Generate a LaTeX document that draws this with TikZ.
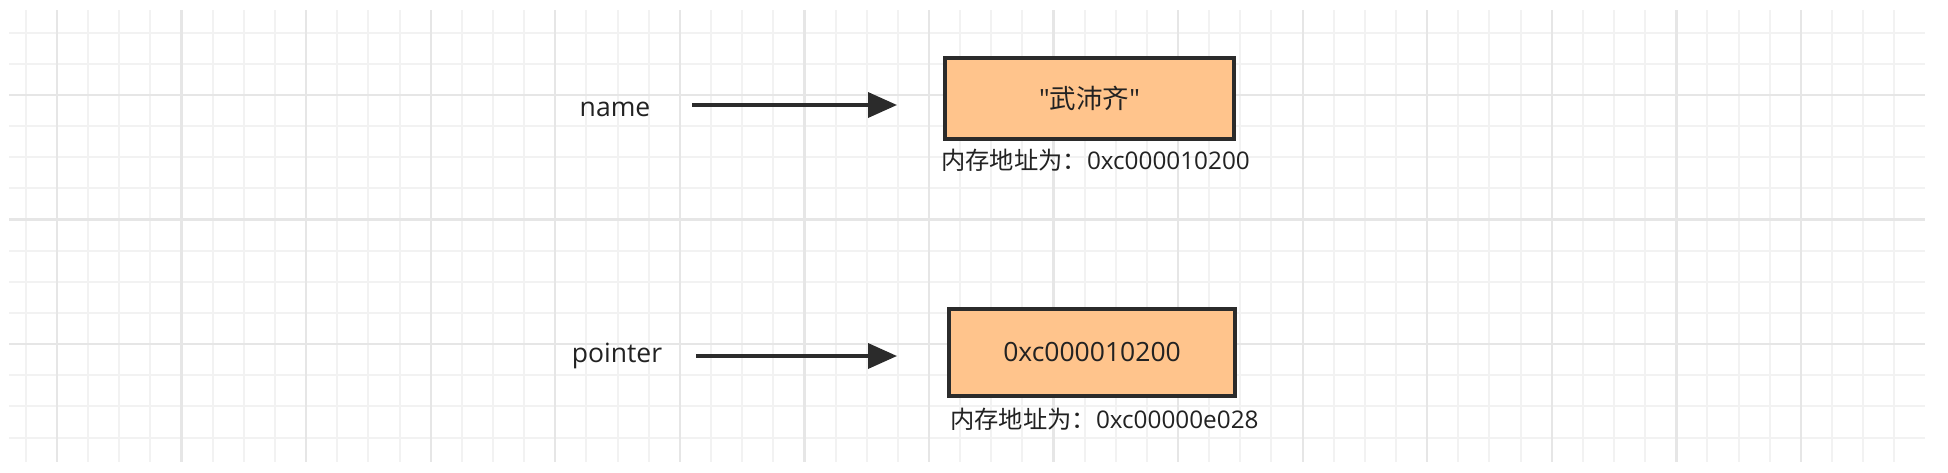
\documentclass[tikz,border=0pt]{standalone}
\usepackage{fontspec}
\setmainfont{Open Sans}
\newfontfamily\cjk{Noto Sans CJK SC}
\usetikzlibrary{positioning,arrows.meta}
\definecolor{boxfill}{HTML}{FFC48C}
\definecolor{boxline}{HTML}{2B2B2B}
\definecolor{textgray}{HTML}{222222}
\definecolor{gridminor}{HTML}{F2F2F2}
\definecolor{gridmajor}{HTML}{E6E6E6}
\tikzset{
  membox/.style={draw=boxline, fill=boxfill, line width=4pt, inner sep=0pt,
    text=textgray, font=\fontsize{26.5}{30}\selectfont},
  varname/.style={inner sep=0pt, text=textgray, font=\fontsize{26.5}{30}\selectfont},
  addr/.style={inner sep=0pt, anchor=west, text=textgray,
    font=\fontsize{24.3}{28}\selectfont},
  ptr/.style={draw=boxline, line width=3.6pt, -{Triangle[length=29pt,width=25pt]}},
  minorline/.style={draw=gridminor, line width=2pt},
  majorline/.style={draw=gridmajor, line width=2.4pt},
}
\begin{document}
\begin{tikzpicture}[x=1pt,y=-1pt]
\useasboundingbox (0,0) rectangle (1948,472);
\fill[white] (0,0) rectangle (1948,472);
% background grid
\begin{scope}
  \clip (9,10) rectangle (1925,462);
  \foreach \i in {-1,...,59}
    \draw[minorline] (57+31.14*\i,10) -- (57+31.14*\i,462);
  \foreach \j in {-2,...,11}
    \draw[minorline] (9,95+31.14*\j) -- (1925,95+31.14*\j);
  \foreach \i in {0,...,14}
    \draw[majorline] (57+124.57*\i,10) -- (57+124.57*\i,462);
  \foreach \j in {0,...,2}
    \draw[majorline] (9,95+124.57*\j) -- (1925,95+124.57*\j);
\end{scope}

% memory cells
\node[membox, minimum width=289pt, minimum height=81pt] (name box) at (1089.5,98.5)
  {\textquotedbl{\cjk 武沛齐}\textquotedbl};
\node[membox, minimum width=286pt, minimum height=87pt] (pointer box) at (1092,352.5)
  {0xc000010200};
\node[addr] (name addr) at ([xshift=-2pt,yshift=-19pt]name box.south west)
  {{\cjk 内存地址为：}0xc000010200};
\node[addr] (pointer addr) at ([xshift=3pt,yshift=-21pt]pointer box.south west)
  {{\cjk 内存地址为：}0xc00000e028};

% variables
\node[varname] (name) at (615,109) {name};
\node[varname] (pointer) at (617,356) {pointer};

\draw[ptr] ([xshift=42pt,yshift=4pt]name.east) -- ([xshift=-46pt,yshift=4pt]name.east -| name box.west);
\draw[ptr] ([xshift=34pt]pointer.east) -- ([xshift=-50pt]pointer.east -| pointer box.west);
\end{tikzpicture}
\end{document}
